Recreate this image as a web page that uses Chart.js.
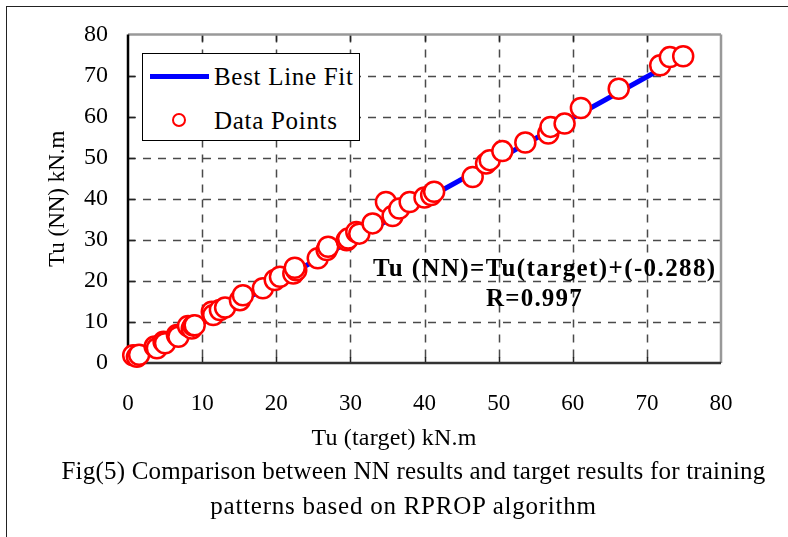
<!DOCTYPE html>
<html>
<head>
<meta charset="utf-8">
<script src="https://cdn.jsdelivr.net/npm/chart.js@4.4.0/dist/chart.umd.min.js"></script>
<style>
  html, body { margin: 0; padding: 0; background: #fff; }
  #wrap {
    position: relative; width: 788px; height: 537px; overflow: hidden;
    font-family: "Liberation Serif", "Times New Roman", serif; color: #000;
  }
  #frame {
    position: absolute; left: 6px; top: 6px; width: 800px; height: 560px;
    border-left: 1.5px solid #222; border-top: 1.5px solid #222;
  }
  #chart { position: absolute; left: 0; top: 0; }
  .txt { position: absolute; white-space: nowrap; line-height: 30px; }
  #legend {
    position: absolute; left: 142px; top: 53px; width: 216px; height: 86px;
    border: 1.5px solid #000; background: #fff;
  }
  #legend .line { position: absolute; left: 7px; top: 20px; width: 59px; height: 5px; background: #0000ff; }
  #legend .dot {
    position: absolute; left: 29px; top: 59px; width: 10px; height: 10px;
    border: 2px solid #ff0000; border-radius: 50%; background: #fff;
  }
  #legend .txt { font-size: 25px; letter-spacing: 0.7px; left: 71px; }
</style>
</head>
<body>
<div id="wrap">
  <div id="frame"></div>
  <canvas id="chart" width="788" height="537"></canvas>
  <div id="legend">
    <span class="line"></span>
    <span class="txt" style="top:8px">Best Line Fit</span>
    <span class="dot"></span>
    <span class="txt" style="top:52px">Data Points</span>
  </div>
  <div class="txt" style="left:373px; top:253px; font-size:25px; font-weight:bold; letter-spacing:1.4px">Tu (NN)=Tu(target)+(-0.288)</div>
  <div class="txt" style="left:486px; top:283px; font-size:25px; font-weight:bold; letter-spacing:1.2px">R=0.997</div>
  <div class="txt" style="left:0; width:788px; text-align:center; top:422px; font-size:24px; letter-spacing:0.2px">Tu (target) kN.m</div>
  <div class="txt" style="left:0; width:827px; text-align:center; top:456px; font-size:25px; letter-spacing:0.2px">Fig(5) Comparison between NN results and target results for training</div>
  <div class="txt" style="left:0; width:807px; text-align:center; top:491px; font-size:25px; letter-spacing:0.75px">patterns based on RPROP algorithm</div>
</div>
<script>
  // values
  const targetValues = [
    0.7, 1.2, 1.5, 3.6, 3.9, 4.8, 5.0, 6.6, 6.8, 8.1, 8.6, 8.8, 9.0,
    11.3, 11.5, 12.4, 13.1, 15.1, 15.5, 18.2, 19.8, 20.5, 22.3, 22.7, 22.5,
    25.6, 26.8, 27.0, 29.5, 29.7, 30.8, 31.2, 33.0, 34.8, 35.7, 36.6, 38.0,
    40.0, 40.9, 41.3, 46.5, 48.3, 48.8, 50.5, 53.6, 56.7, 57.0, 58.9, 61.1,
    66.2, 71.8, 73.1, 74.9,
  ];
  const nnValues = [
    1.9, 1.5, 2.0, 4.0, 3.6, 5.2, 4.8, 6.8, 6.4, 9.0, 8.4, 9.1, 9.2,
    12.5, 11.7, 12.9, 13.5, 15.3, 16.5, 18.2, 20.2, 21.0, 21.8, 22.6, 23.2,
    25.5, 27.5, 28.3, 29.9, 30.3, 31.9, 31.5, 34.0, 39.2, 35.8, 37.6, 39.2,
    40.3, 40.9, 41.7, 45.3, 48.6, 49.4, 51.6, 53.7, 55.9, 57.5, 58.3, 62.1,
    66.8, 72.5, 74.5, 74.7,
  ];
  const fitLineX = [0, 75];
  const fitLineY = [-0.29, 74.7];
  const xTickValues = [0, 10, 20, 30, 40, 50, 60, 70, 80];
  const yTickValues = [0, 10, 20, 30, 40, 50, 60, 70, 80];

  Chart.defaults.font.family = '"Liberation Serif", "Times New Roman", serif';
  Chart.defaults.color = "#000";

  // dashed grid, inside ticks and the plot frame
  const framePlugin = {
    id: "frame",
    beforeDatasetsDraw(chart) {
      const { ctx, chartArea: a, scales } = chart;
      const x = scales.x, y = scales.y;
      const seg = (x1, y1, x2, y2) => {
        ctx.beginPath(); ctx.moveTo(x1, y1); ctx.lineTo(x2, y2); ctx.stroke();
      };
      ctx.save();
      ctx.strokeStyle = "#4a4a4a";
      ctx.lineWidth = 1.5;
      ctx.setLineDash([8, 7]);
      for (const v of xTickValues.slice(1, -1)) {
        const px = Math.round(x.getPixelForValue(v)) + 0.5;
        seg(px, a.top, px, a.bottom);
      }
      for (const v of yTickValues.slice(1, -1)) {
        const py = Math.round(y.getPixelForValue(v)) + 0.5;
        seg(a.left, py, a.right, py);
      }
      ctx.setLineDash([]);
      ctx.strokeStyle = "#222";
      for (const v of xTickValues.slice(1, -1)) {
        const px = Math.round(x.getPixelForValue(v)) + 0.5;
        seg(px, a.top, px, a.top + 7);
        seg(px, a.bottom, px, a.bottom - 6);
      }
      for (const v of yTickValues.slice(1, -1)) {
        const py = Math.round(y.getPixelForValue(v)) + 0.5;
        seg(a.left, py, a.left + 7, py);
      }
      ctx.lineWidth = 2.5;
      ctx.strokeStyle = "#999";
      seg(a.left, a.top, a.right, a.top);
      seg(a.right, a.top, a.right, a.bottom);
      ctx.strokeStyle = "#333";
      seg(a.left, a.bottom, a.right, a.bottom);
      ctx.strokeStyle = "#000";
      seg(a.left, a.top, a.left, a.bottom);
      ctx.restore();
    },
  };

  new Chart(document.getElementById("chart"), {
    type: "scatter",
    data: {
      datasets: [
        {
          label: "Data Points",
          data: targetValues.map((v, i) => ({ x: v, y: nnValues[i] })),
          pointStyle: "circle",
          pointRadius: 10,
          pointHoverRadius: 10,
          borderWidth: 2.5,
          borderColor: "#ff0000",
          backgroundColor: "#ffffff",
          clip: false,
          order: 0,
        },
        {
          type: "line",
          label: "Best Line Fit",
          data: fitLineX.map((v, i) => ({ x: v, y: fitLineY[i] })),
          borderColor: "#0000ff",
          borderWidth: 5,
          pointRadius: 0,
          fill: false,
          order: 1,
        },
      ],
    },
    options: {
      responsive: false,
      animation: false,
      events: [],
      layout: { padding: { left: 0, top: 34.5, right: 67, bottom: 114 } },
      plugins: { legend: { display: false }, tooltip: { enabled: false } },
      scales: {
        x: {
          type: "linear",
          min: 0,
          max: 80,
          afterBuildTicks: (s) => { s.ticks = xTickValues.map((v) => ({ value: v })); },
          afterFit: (s) => { s.height = 60; },
          grid: { display: false, drawTicks: false },
          border: { display: false },
          ticks: { font: { size: 23 }, padding: 27, color: "#000" },
        },
        y: {
          type: "linear",
          min: 0,
          max: 80,
          afterBuildTicks: (s) => { s.ticks = yTickValues.map((v) => ({ value: v })); },
          afterFit: (s) => { s.width = 128; },
          grid: { display: false, drawTicks: false },
          border: { display: false },
          ticks: { font: { size: 24 }, padding: 20, color: "#000" },
          title: {
            display: true,
            text: "Tu (NN) kN.m",
            font: { size: 23 },
            padding: { top: 44, bottom: 0 },
            color: "#000",
          },
        },
      },
    },
    plugins: [framePlugin],
  });
</script>
</body>
</html>
